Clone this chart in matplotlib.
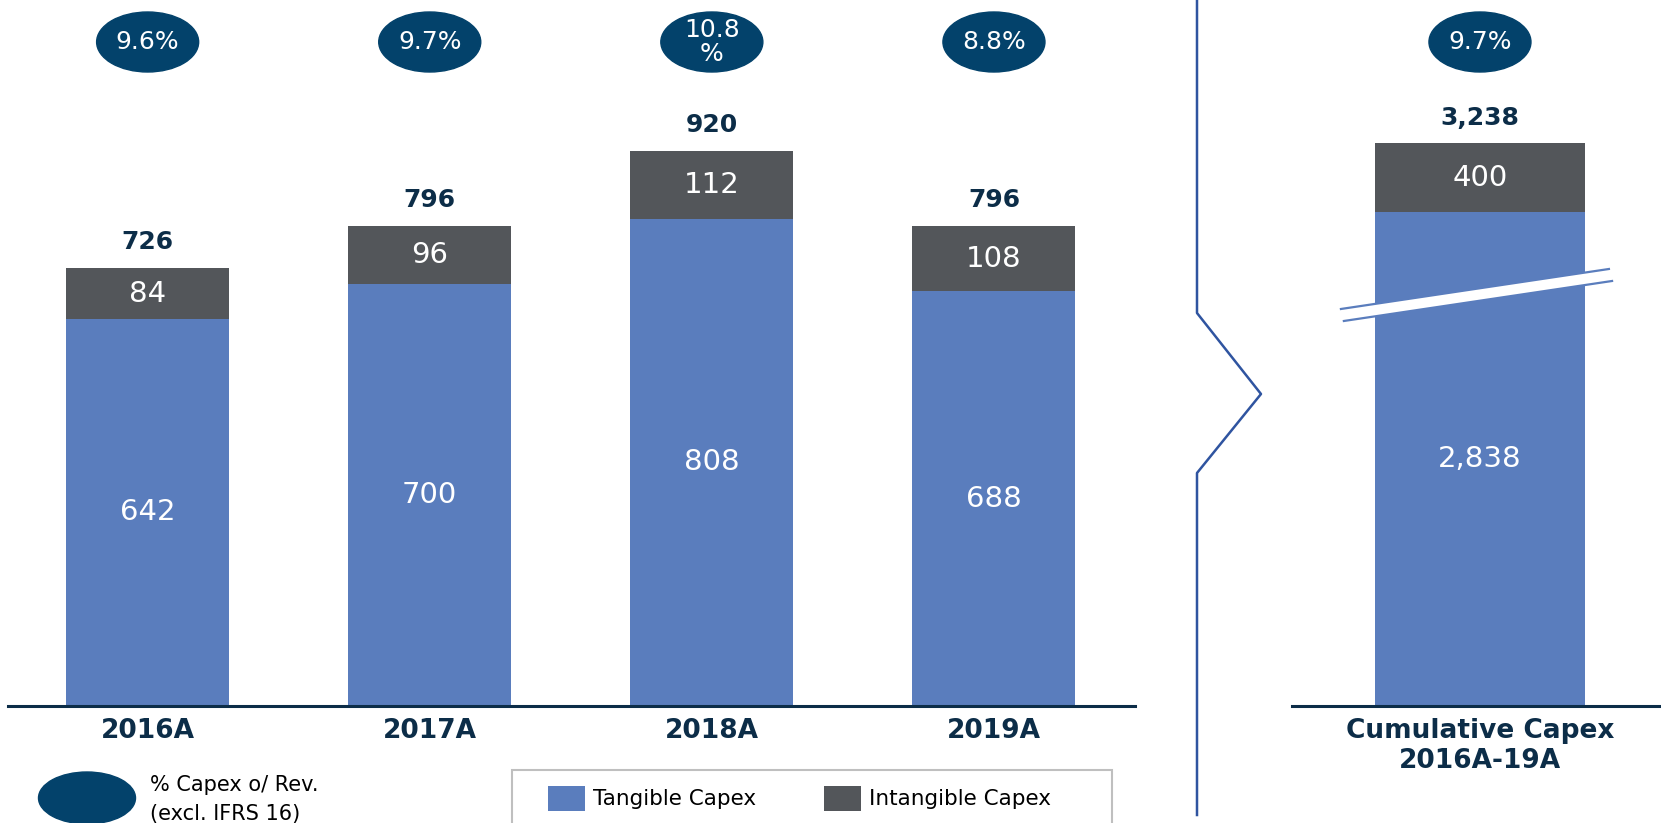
import matplotlib
matplotlib.use("Agg")
import matplotlib.pyplot as plt
from matplotlib.patches import Ellipse, Rectangle, Polygon
from matplotlib.lines import Line2D
from matplotlib.transforms import blended_transform_factory
import numpy as np

plt.rcParams['font.family'] = ['DejaVu Sans']

# yearly capex (EUR m)
years = ['2016A', '2017A', '2018A', '2019A']
tangible = [642, 700, 808, 688]
intangible = [84, 96, 112, 108]
capex_pct = ['9.6%', '9.7%', '10.8\n%', '8.8%']

# cumulative bar
cum_label = 'Cumulative Capex\n2016A-19A'
cum_tangible = 2838
cum_intangible = 400
cum_pct = '9.7%'

BLUE = '#5a7dbd'
GREY = '#53565a'
NAVY = '#03426b'
DARK = '#0c2d48'
LINE = '#2f54a0'

W, H = 1661, 823
fig = plt.figure(figsize=(W / 100, H / 100), dpi=100)


def fx(px):
    return px / W


def fy(py):
    return 1 - py / H


base = 706  # pixel row of the baseline

# left panel: yearly bars
ax = fig.add_axes([fx(8), fy(base), (1135 - 8) / W, base / H])
x = np.arange(len(years))
ax.bar(x, tangible, width=0.578, color=BLUE)
ax.bar(x, intangible, width=0.578, bottom=tangible, color=GREY)
ax.set_xlim(-0.495, 3.5)
ax.set_ylim(0, base / 0.603)

for xi, t, i in zip(x, tangible, intangible):
    ax.text(xi, t / 2, f'{t:,}', color='white', fontsize=21, ha='center', va='center')
    ax.text(xi, t + i / 2, f'{i:,}', color='white', fontsize=21, ha='center', va='center')
    ax.annotate(f'{t + i:,}', (xi, t + i), xytext=(0, 19), textcoords='offset points',
                ha='center', va='center', fontsize=18, fontweight='bold', color=DARK)

# right panel: cumulative bar
ax2 = fig.add_axes([fx(1292), fy(base), (W - 1292) / W, base / H])
ax2.bar([0], [cum_tangible], width=1.0, color=BLUE)
ax2.bar([0], [cum_intangible], width=1.0, bottom=[cum_tangible], color=GREY)
ax2.set_xlim(-0.895, 0.862)
ax2.set_ylim(0, base / 0.1739)
cum_total = cum_tangible + cum_intangible
ax2.text(0, cum_tangible / 2, f'{cum_tangible:,}', color='white', fontsize=21, ha='center', va='center')
ax2.text(0, cum_tangible + cum_intangible / 2, f'{cum_intangible:,}', color='white', fontsize=21,
         ha='center', va='center')
ax2.annotate(f'{cum_total:,}', (0, cum_total), xytext=(0, 18), textcoords='offset points',
             ha='center', va='center', fontsize=18, fontweight='bold', color=DARK)

# axis break on the cumulative bar
top_edge = [(-0.662, 2283), (0.614, 2513)]
bot_edge = [(-0.648, 2214), (0.629, 2444)]
ax2.add_patch(Polygon(top_edge + bot_edge[::-1], closed=True, facecolor='white',
                      edgecolor='none', clip_on=False, zorder=3))
for edge in (top_edge, bot_edge):
    ax2.plot([p[0] for p in edge], [p[1] for p in edge], color=BLUE, lw=1.6,
             clip_on=False, zorder=4)

for a, labels, ticks in ((ax, years, x), (ax2, [cum_label], [0])):
    for s in ('top', 'left', 'right'):
        a.spines[s].set_visible(False)
    a.spines['bottom'].set_color(DARK)
    a.spines['bottom'].set_linewidth(2.2)
    a.set_yticks([])
    a.set_xticks(ticks, labels, fontsize=19, fontweight='bold', color=DARK, linespacing=1.15)
    a.tick_params(axis='x', length=0, pad=9)

# % capex over revenue bubbles
ell_y = fy(42)
for a, xs, labels, w in ((ax, x, capex_pct, 102 / 282), (ax2, [0], [cum_pct], 102 / 210)):
    trans = blended_transform_factory(a.transData, fig.transFigure)
    for xi, lab in zip(xs, labels):
        a.add_patch(Ellipse((xi, ell_y), w, 60 / H, transform=trans, color=NAVY, clip_on=False))
        a.text(xi, ell_y, lab, transform=trans, color='white', fontsize=18, ha='center',
               va='center', linespacing=1.0)

# divider between the two panels
div_x = [1197, 1197, 1261, 1197, 1197]
div_y = [0, 313, 394, 473, 815]
fig.add_artist(Line2D([fx(v) for v in div_x], [fy(v) for v in div_y],
                      transform=fig.transFigure, color=LINE, lw=1.8))

# bubble key
fig.add_artist(Ellipse((fx(87), fy(798)), 97 / W, 52 / H, transform=fig.transFigure, color=NAVY))
fig.text(fx(150), fy(785), '% Capex o/ Rev.', fontsize=15, va='center', color='black')
fig.text(fx(150), fy(814), '(excl. IFRS 16)', fontsize=15, va='center', color='black')

# bar legend
fig.add_artist(Rectangle((fx(512), fy(840)), 600 / W, 70 / H, transform=fig.transFigure,
                         facecolor='white', edgecolor='#bfbfbf', lw=1.5))
for px, col, lab in ((548, BLUE, 'Tangible Capex'), (824, GREY, 'Intangible Capex')):
    fig.add_artist(Rectangle((fx(px), fy(811)), 37 / W, 25 / H, transform=fig.transFigure,
                             facecolor=col, edgecolor='none'))
    fig.text(fx(px + 45), fy(799), lab, fontsize=15.5, va='center', color='black')

fig.savefig('out.png', dpi=100)
